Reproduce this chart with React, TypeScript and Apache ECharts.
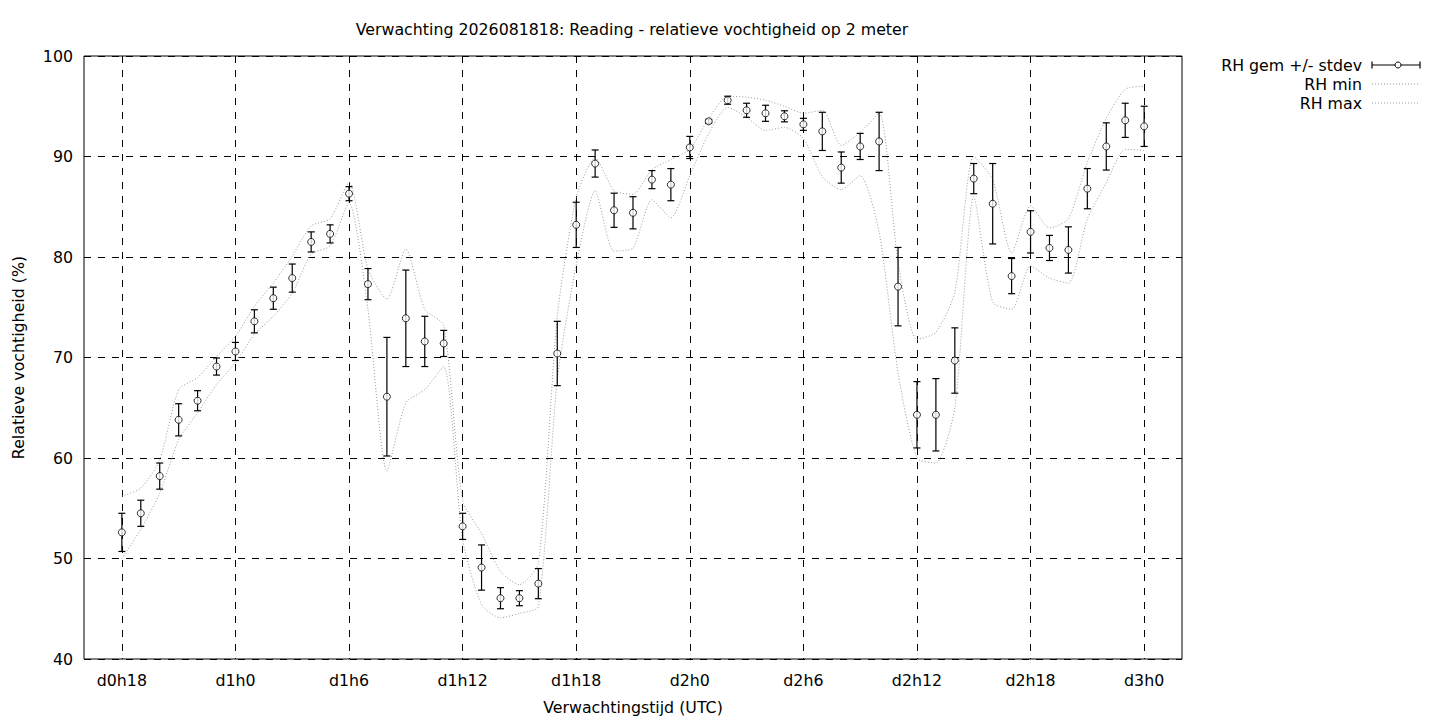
import React, { useEffect, useRef } from "react";
import * as echarts from "echarts";

// forecast hours since d0h0
const hours = [
  18, 19, 20, 21, 22, 23,
  24, 25, 26, 27, 28, 29, 30, 31, 32, 33, 34, 35, 36, 37, 38, 39, 40, 41,
  42, 43, 44, 45, 46, 47,
  48, 49, 50, 51, 52, 53, 54, 55, 56, 57, 58, 59, 60, 61, 62, 63, 64, 65,
  66, 67, 68, 69, 70, 71,
  72,
];

const rhMean = [
  52.6, 54.5, 58.2, 63.8, 65.7, 69.1,
  70.6, 73.6, 75.9, 77.9, 81.5, 82.3, 86.3, 77.3, 66.1, 73.9, 71.6, 71.4,
  53.2, 49.1, 46.05, 46.05, 47.5, 70.4, 83.2, 89.3, 84.65, 84.4, 87.7, 87.2,
  90.9, 93.5, 95.6, 94.6, 94.3, 94.0, 93.2, 92.5, 88.9, 91.0, 91.5, 77.05,
  64.3, 64.3, 69.7, 87.8, 85.3, 78.1, 82.5, 80.9, 80.7, 86.8, 91.0, 93.6,
  93.0,
];

const rhStdev = [
  1.9, 1.3, 1.3, 1.6, 1.0, 0.85,
  0.9, 1.15, 1.1, 1.4, 1.0, 0.9, 0.7, 1.55, 5.9, 4.8, 2.5, 1.3,
  1.3, 2.25, 1.05, 0.75, 1.5, 3.2, 2.25, 1.35, 1.7, 1.6, 0.9, 1.6,
  1.1, 0.2, 0.4, 0.7, 0.8, 0.55, 0.6, 1.9, 1.55, 1.3, 2.9, 3.9,
  3.3, 3.6, 3.25, 1.5, 4.0, 1.75, 2.1, 1.25, 2.3, 2.0, 2.35, 1.7,
  2.0,
];

const rhMin = [
  50.0, 52.9, 56.5, 61.8, 64.5, 67.3,
  69.5, 72.3, 74.1, 76.4, 80.3, 81.1, 85.4, 74.8, 58.7, 65.5, 66.8, 69.1,
  51.9, 45.4, 44.1, 44.55, 45.2, 67.8, 79.2, 86.6, 80.6, 80.9, 85.7, 83.9,
  88.1, 92.3, 94.9, 93.9, 92.6, 92.9, 91.8, 88.0, 86.7, 88.1, 82.5, 68.5,
  60.0, 59.5, 65.0, 86.0, 75.5, 74.8, 79.1, 77.9, 77.4, 83.8, 87.4, 90.7,
  90.6,
];

const rhMax = [
  56.2, 57.0, 59.8, 66.8, 68.0, 70.1,
  72.1, 75.1, 77.4, 80.1, 83.1, 83.8, 87.4, 78.8, 75.8, 80.8, 74.8, 73.2,
  55.8, 52.5, 48.7, 47.4, 49.5, 74.1, 85.9, 89.9, 86.6, 86.25, 88.7, 89.7,
  90.7, 93.8, 96.0, 95.9, 95.6, 95.0, 94.3, 94.6, 91.1, 92.4, 94.3, 79.5,
  71.8, 72.5, 76.5, 90.0, 87.7, 80.4, 85.1, 82.9, 83.8, 89.4, 93.8, 96.7,
  97.0,
];

const xTicks = [18, 24, 30, 36, 42, 48, 54, 60, 66, 72];

const TITLE = "Verwachting 2026081818: Reading - relatieve vochtigheid op 2 meter";
const X_NAME = "Verwachtingstijd (UTC)";
const Y_NAME = "Relatieve vochtigheid (%)";
const LEGEND_MEAN = "RH gem +/- stdev";
const LEGEND_MIN = "RH min";
const LEGEND_MAX = "RH max";

const FONT = "DejaVu Sans";
const FS = 15.8;

function hourLabel(h: number): string {
  const d = Math.floor(h / 24);
  return `d${d}h${h - d * 24}`;
}

const GRID = { left: 84, top: 56, width: 1098, height: 603 };

export default function App() {
  const ref = useRef<HTMLDivElement>(null);

  useEffect(() => {
    if (!ref.current) return;
    const chart = echarts.init(ref.current, undefined, { renderer: "svg" });

    const errData = hours.map((h, i) => [h, rhMean[i], rhStdev[i]]);
    const meanData = hours.map((h, i) => [h, rhMean[i]]);
    const minData = hours.map((h, i) => [h, rhMin[i]]);
    const maxData = hours.map((h, i) => [h, rhMax[i]]);

    const dotted = { color: "#9a9a9a", width: 1, type: [1, 2] as number[] };
    const textBase = { fontFamily: FONT, fontSize: FS, color: "#000" };
    const font = `${FS}px "${FONT}"`;

    const legendX = 1362;
    const iconL = 1372;
    const iconR = 1420;
    const ly = [65, 84, 103];

    const option: any = {
      animation: false,
      backgroundColor: "#fff",
      textStyle: { fontFamily: FONT },
      title: {
        text: TITLE,
        left: GRID.left + GRID.width / 2 - 1,
        top: 21,
        padding: 0,
        textAlign: "center",
        textStyle: { ...textBase, fontWeight: "normal" },
      },
      grid: {
        ...GRID,
        show: true,
        borderColor: "#000",
        borderWidth: 1,
        backgroundColor: "transparent",
        containLabel: false,
      },
      xAxis: {
        type: "value",
        min: 16,
        max: 74,
        axisLine: { show: false },
        axisTick: { show: false, customValues: xTicks },
        axisLabel: {
          customValues: xTicks,
          formatter: (v: number) => hourLabel(v),
          ...textBase,
          margin: 13,
        },
        splitLine: {
          show: true,
          lineStyle: { color: "#000", width: 1, type: [7, 7] },
        },
        name: X_NAME,
        nameLocation: "middle",
        nameGap: 40,
        nameTextStyle: textBase,
      },
      yAxis: {
        type: "value",
        min: 40,
        max: 100,
        interval: 10,
        axisLine: { show: false },
        axisTick: { show: false },
        axisLabel: { ...textBase, margin: 11 },
        splitLine: {
          show: true,
          lineStyle: { color: "#000", width: 1, type: [7, 7] },
        },
        name: Y_NAME,
        nameLocation: "middle",
        nameGap: 58,
        nameTextStyle: textBase,
      },
      series: [
        {
          name: LEGEND_MIN,
          type: "line",
          data: minData,
          showSymbol: false,
          smooth: 0.22,
          lineStyle: dotted,
          z: 2,
          silent: true,
        },
        {
          name: LEGEND_MAX,
          type: "line",
          data: maxData,
          showSymbol: false,
          smooth: 0.22,
          lineStyle: dotted,
          z: 2,
          silent: true,
        },
        {
          name: LEGEND_MEAN,
          type: "custom",
          data: errData,
          encode: { x: 0, y: 1 },
          z: 3,
          silent: true,
          renderItem: (params: any, api: any) => {
            const x = api.value(0);
            const m = api.value(1);
            const s = api.value(2);
            const top = api.coord([x, m + s]);
            const bot = api.coord([x, m - s]);
            const c = 3.5;
            const st = { stroke: "#000", lineWidth: 1.2 };
            return {
              type: "group",
              children: [
                { type: "line", shape: { x1: top[0], y1: top[1], x2: bot[0], y2: bot[1] }, style: st },
                { type: "line", shape: { x1: top[0] - c, y1: top[1], x2: top[0] + c, y2: top[1] }, style: st },
                { type: "line", shape: { x1: bot[0] - c, y1: bot[1], x2: bot[0] + c, y2: bot[1] }, style: st },
              ],
            };
          },
        },
        {
          name: LEGEND_MEAN + " punten",
          type: "scatter",
          data: meanData,
          symbol: "circle",
          symbolSize: 7,
          itemStyle: { color: "#fff", borderColor: "#000", borderWidth: 1 },
          z: 4,
          silent: true,
        },
      ],
      graphic: [
        {
          type: "text",
          x: legendX,
          y: ly[0],
          style: { text: LEGEND_MEAN, font, fill: "#000", textAlign: "right", textVerticalAlign: "middle" },
        },
        {
          type: "text",
          x: legendX,
          y: ly[1],
          style: { text: LEGEND_MIN, font, fill: "#000", textAlign: "right", textVerticalAlign: "middle" },
        },
        {
          type: "text",
          x: legendX,
          y: ly[2],
          style: { text: LEGEND_MAX, font, fill: "#000", textAlign: "right", textVerticalAlign: "middle" },
        },
        { type: "line", shape: { x1: iconL, y1: ly[0], x2: iconR, y2: ly[0] }, style: { stroke: "#000", lineWidth: 1.2 } },
        { type: "line", shape: { x1: iconL, y1: ly[0] - 3.5, x2: iconL, y2: ly[0] + 3.5 }, style: { stroke: "#000", lineWidth: 1.2 } },
        { type: "line", shape: { x1: iconR, y1: ly[0] - 3.5, x2: iconR, y2: ly[0] + 3.5 }, style: { stroke: "#000", lineWidth: 1.2 } },
        { type: "circle", shape: { cx: (iconL + iconR) / 2 + 2, cy: ly[0], r: 3 }, style: { fill: "#fff", stroke: "#000", lineWidth: 1 }, z: 10 },
        { type: "line", shape: { x1: iconL, y1: ly[1], x2: iconR, y2: ly[1] }, style: { stroke: "#9a9a9a", lineWidth: 1, lineDash: [1, 2] } },
        { type: "line", shape: { x1: iconL, y1: ly[2], x2: iconR, y2: ly[2] }, style: { stroke: "#9a9a9a", lineWidth: 1, lineDash: [1, 2] } },
      ],
    };

    chart.setOption(option);
    return () => {
      chart.dispose();
    };
  }, []);

  return (
    <div
      ref={ref}
      style={{ position: "absolute", left: 0, top: 0, width: 1440, height: 720, background: "#fff" }}
    />
  );
}
